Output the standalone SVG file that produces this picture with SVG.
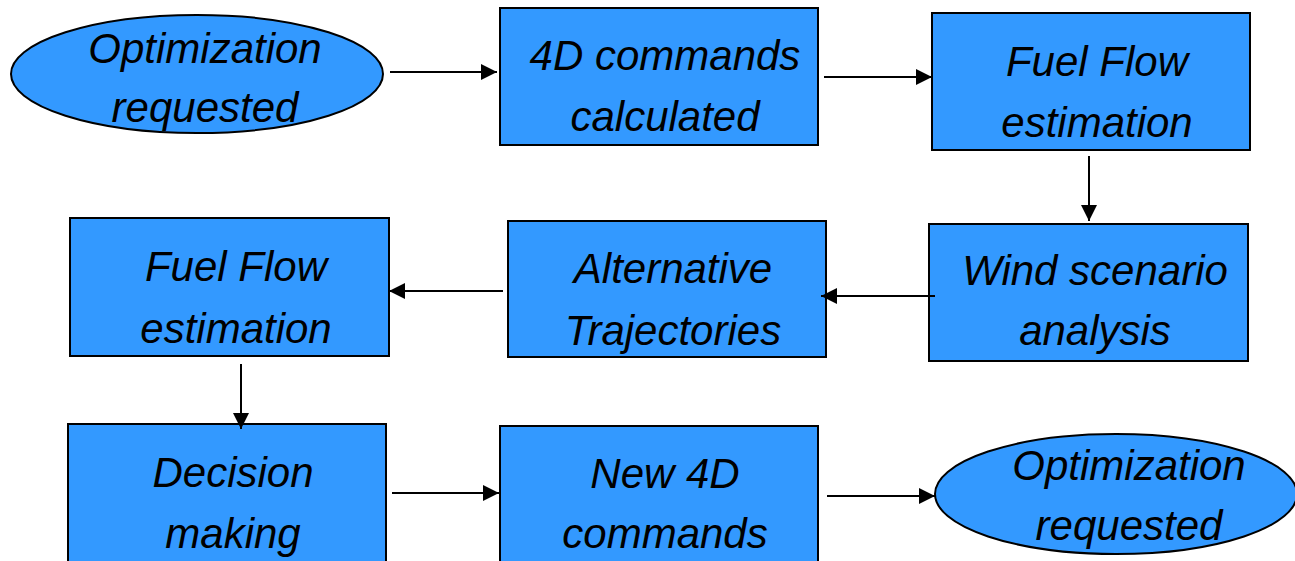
<svg xmlns="http://www.w3.org/2000/svg" width="1295" height="561" viewBox="0 0 1295 561">
<style>
.n{fill:#3399FF;stroke:#000;stroke-width:2}
.t{font-family:"Liberation Sans",Arial,sans-serif;font-style:italic;font-size:42px;fill:#000;text-anchor:middle}
.c{stroke:#000;stroke-width:2;fill:none;marker-end:url(#ah)}
</style>
<defs>
<marker id="ah" markerUnits="userSpaceOnUse" markerWidth="16" markerHeight="16" refX="16" refY="8" orient="auto">
<path d="M0,0 L16,8 L0,16 z" fill="#000"/>
</marker>
</defs>
<rect width="1295" height="561" fill="#fff"/>
<g id="n1">
<ellipse class="n" cx="197" cy="74" rx="186" ry="59"/>
<text class="t" x="205" y="63">Optimization</text>
<text class="t" x="205" y="122">requested</text>
</g>
<g id="n2">
<rect class="n" x="500" y="8" width="318" height="137"/>
<text class="t" x="665" y="70">4D commands</text>
<text class="t" x="665" y="131">calculated</text>
</g>
<g id="n3">
<rect class="n" x="932" y="13" width="318" height="137"/>
<text class="t" x="1097" y="76">Fuel Flow</text>
<text class="t" x="1097" y="137">estimation</text>
</g>
<g id="n4">
<rect class="n" x="929" y="224" width="319" height="137"/>
<text class="t" x="1095" y="285">Wind scenario</text>
<text class="t" x="1095" y="345">analysis</text>
</g>
<g id="n5">
<rect class="n" x="508" y="221" width="318" height="136"/>
<text class="t" x="673" y="283">Alternative</text>
<text class="t" x="673" y="345">Trajectories</text>
</g>
<g id="n6">
<rect class="n" x="70" y="218" width="319" height="138"/>
<text class="t" x="236" y="281">Fuel Flow</text>
<text class="t" x="236" y="343">estimation</text>
</g>
<g id="n7">
<rect class="n" x="68" y="424" width="318" height="145"/>
<text class="t" x="233" y="487">Decision</text>
<text class="t" x="233" y="548">making</text>
</g>
<g id="n8">
<rect class="n" x="500" y="426" width="318" height="145"/>
<text class="t" x="665" y="488">New 4D</text>
<text class="t" x="665" y="548">commands</text>
</g>
<g id="n9">
<ellipse class="n" cx="1116" cy="494" rx="181" ry="60"/>
<text class="t" x="1129" y="480">Optimization</text>
<text class="t" x="1129" y="540">requested</text>
</g>
<g id="connectors">
<line class="c" x1="390" y1="72" x2="497" y2="72"/>
<line class="c" x1="824" y1="77" x2="932" y2="77"/>
<line class="c" x1="1089" y1="156" x2="1089" y2="221"/>
<line class="c" x1="935" y1="296" x2="821" y2="296"/>
<line class="c" x1="503" y1="291" x2="389" y2="291"/>
<line class="c" x1="241" y1="364" x2="241" y2="429"/>
<line class="c" x1="392" y1="493" x2="499" y2="493"/>
<line class="c" x1="827" y1="496" x2="935" y2="496"/>
</g>
</svg>
